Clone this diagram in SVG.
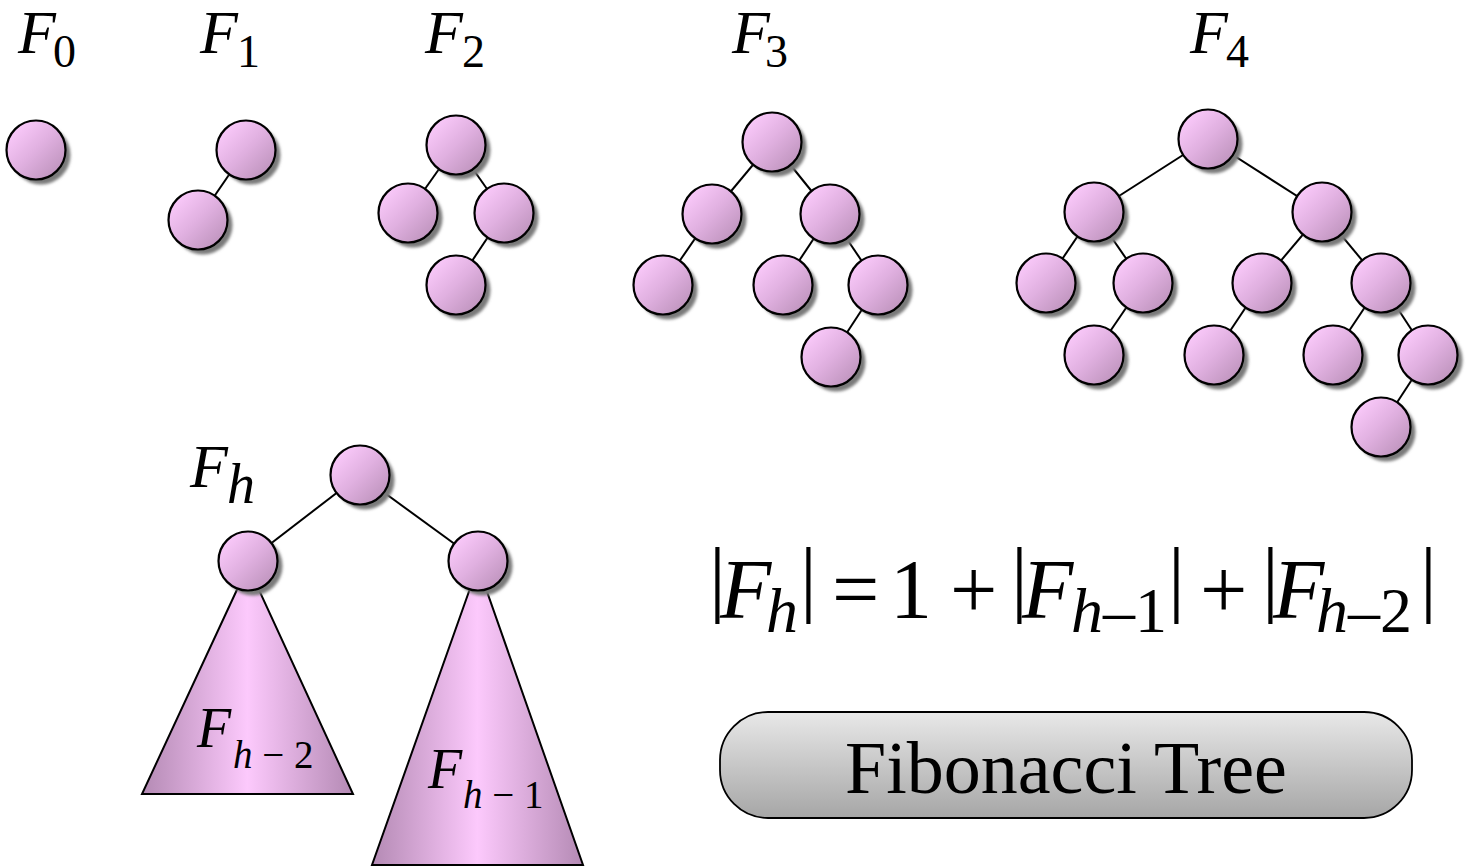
<svg xmlns="http://www.w3.org/2000/svg" width="1469" height="867" viewBox="0 0 1469 867">
<defs>
<linearGradient id="gNode" x1="0" y1="0" x2="1" y2="1">
<stop offset="0.1" stop-color="#fccbfc"/>
<stop offset="0.5" stop-color="#e0b0e0"/>
<stop offset="1" stop-color="#b58cb3"/>
</linearGradient>
<linearGradient id="gTri" x1="0" y1="0" x2="1" y2="0">
<stop offset="0" stop-color="#b48ab4"/>
<stop offset="0.5" stop-color="#fcc9fc"/>
<stop offset="1" stop-color="#b48ab4"/>
</linearGradient>
<linearGradient id="gBtn" x1="0" y1="0" x2="0" y2="1">
<stop offset="0" stop-color="#e8e8e8"/>
<stop offset="1" stop-color="#a6a6a6"/>
</linearGradient>
<filter id="blur" x="-20%" y="-20%" width="140%" height="140%">
<feGaussianBlur stdDeviation="1.4"/>
</filter>
</defs>
<style>
.sh{fill:#7a7a7a;filter:url(#blur)}
.nd{fill:url(#gNode);stroke:#000;stroke-width:2.2}
.ed line{stroke:#000;stroke-width:2}
.tri{fill:url(#gTri);stroke:#000;stroke-width:2}
.t{fill:#000}
.i{font-style:italic}
</style>

<g id="labels" class="t" font-family="Liberation Serif, Times New Roman, serif">
<text x="18" y="53" font-size="62" class="i">F</text><text x="53" y="67" font-size="46">0</text>
<text x="200" y="53" font-size="62" class="i">F</text><text x="237" y="67" font-size="46">1</text>
<text x="425" y="53" font-size="62" class="i">F</text><text x="462" y="67" font-size="46">2</text>
<text x="732" y="53" font-size="62" class="i">F</text><text x="765" y="67" font-size="46">3</text>
<text x="1190" y="53" font-size="62" class="i">F</text><text x="1226" y="67" font-size="46">4</text>
<text x="190" y="487" font-size="62" class="i">F</text><text x="227" y="503" font-size="56" class="i">h</text>
</g>

<g id="connectors" class="ed">
<line x1="246" y1="150" x2="198" y2="220"/>
<line x1="456" y1="145" x2="408" y2="213"/>
<line x1="456" y1="145" x2="504" y2="213"/>
<line x1="504" y1="213" x2="456" y2="285"/>
<line x1="772" y1="142" x2="712" y2="214"/>
<line x1="772" y1="142" x2="830" y2="214"/>
<line x1="712" y1="214" x2="663" y2="285"/>
<line x1="830" y1="214" x2="783" y2="285"/>
<line x1="830" y1="214" x2="878" y2="285"/>
<line x1="878" y1="285" x2="831" y2="357"/>
<line x1="1208" y1="139" x2="1094" y2="212"/>
<line x1="1208" y1="139" x2="1322" y2="212"/>
<line x1="1094" y1="212" x2="1046" y2="283"/>
<line x1="1094" y1="212" x2="1143" y2="283"/>
<line x1="1143" y1="283" x2="1094" y2="355"/>
<line x1="1322" y1="212" x2="1262" y2="283"/>
<line x1="1322" y1="212" x2="1381" y2="283"/>
<line x1="1262" y1="283" x2="1214" y2="355"/>
<line x1="1381" y1="283" x2="1333" y2="355"/>
<line x1="1381" y1="283" x2="1428" y2="355"/>
<line x1="1428" y1="355" x2="1381" y2="427"/>
<line x1="360" y1="475" x2="248" y2="561"/>
<line x1="360" y1="475" x2="478" y2="561"/>
</g>

<g id="subtreeL">
<polygon class="tri" points="248,566 142,794 353,794"/>
<text class="t" font-family="Liberation Serif, Times New Roman, serif" y="747" font-size="56"><tspan x="197" class="i">F</tspan></text>
<text class="t" font-family="Liberation Serif, Times New Roman, serif" x="233" y="768" font-size="39"><tspan class="i">h</tspan> − 2</text>
</g>
<g id="subtreeR">
<polygon class="tri" points="478,566 372,865 583,865"/>
<text class="t" font-family="Liberation Serif, Times New Roman, serif" y="788" font-size="56"><tspan x="428" class="i">F</tspan></text>
<text class="t" font-family="Liberation Serif, Times New Roman, serif" x="463" y="808" font-size="39"><tspan class="i">h</tspan> − 1</text>
</g>

<g id="f0n0"><circle class="sh" cx="41" cy="155" r="29.5"/><circle class="nd" cx="36" cy="150" r="29.5"/></g>

<g id="f1n0"><circle class="sh" cx="251" cy="155" r="29.5"/><circle class="nd" cx="246" cy="150" r="29.5"/></g>
<g id="f1n1"><circle class="sh" cx="203" cy="225" r="29.5"/><circle class="nd" cx="198" cy="220" r="29.5"/></g>

<g id="f2n0"><circle class="sh" cx="461" cy="150" r="29.5"/><circle class="nd" cx="456" cy="145" r="29.5"/></g>
<g id="f2n1"><circle class="sh" cx="413" cy="218" r="29.5"/><circle class="nd" cx="408" cy="213" r="29.5"/></g>
<g id="f2n2"><circle class="sh" cx="509" cy="218" r="29.5"/><circle class="nd" cx="504" cy="213" r="29.5"/></g>
<g id="f2n3"><circle class="sh" cx="461" cy="290" r="29.5"/><circle class="nd" cx="456" cy="285" r="29.5"/></g>

<g id="f3n0"><circle class="sh" cx="777" cy="147" r="29.5"/><circle class="nd" cx="772" cy="142" r="29.5"/></g>
<g id="f3n1"><circle class="sh" cx="717" cy="219" r="29.5"/><circle class="nd" cx="712" cy="214" r="29.5"/></g>
<g id="f3n2"><circle class="sh" cx="835" cy="219" r="29.5"/><circle class="nd" cx="830" cy="214" r="29.5"/></g>
<g id="f3n3"><circle class="sh" cx="668" cy="290" r="29.5"/><circle class="nd" cx="663" cy="285" r="29.5"/></g>
<g id="f3n4"><circle class="sh" cx="788" cy="290" r="29.5"/><circle class="nd" cx="783" cy="285" r="29.5"/></g>
<g id="f3n5"><circle class="sh" cx="883" cy="290" r="29.5"/><circle class="nd" cx="878" cy="285" r="29.5"/></g>
<g id="f3n6"><circle class="sh" cx="836" cy="362" r="29.5"/><circle class="nd" cx="831" cy="357" r="29.5"/></g>

<g id="f4n0"><circle class="sh" cx="1213" cy="144" r="29.5"/><circle class="nd" cx="1208" cy="139" r="29.5"/></g>
<g id="f4n1"><circle class="sh" cx="1099" cy="217" r="29.5"/><circle class="nd" cx="1094" cy="212" r="29.5"/></g>
<g id="f4n2"><circle class="sh" cx="1327" cy="217" r="29.5"/><circle class="nd" cx="1322" cy="212" r="29.5"/></g>
<g id="f4n3"><circle class="sh" cx="1051" cy="288" r="29.5"/><circle class="nd" cx="1046" cy="283" r="29.5"/></g>
<g id="f4n4"><circle class="sh" cx="1148" cy="288" r="29.5"/><circle class="nd" cx="1143" cy="283" r="29.5"/></g>
<g id="f4n5"><circle class="sh" cx="1099" cy="360" r="29.5"/><circle class="nd" cx="1094" cy="355" r="29.5"/></g>
<g id="f4n6"><circle class="sh" cx="1267" cy="288" r="29.5"/><circle class="nd" cx="1262" cy="283" r="29.5"/></g>
<g id="f4n7"><circle class="sh" cx="1386" cy="288" r="29.5"/><circle class="nd" cx="1381" cy="283" r="29.5"/></g>
<g id="f4n8"><circle class="sh" cx="1219" cy="360" r="29.5"/><circle class="nd" cx="1214" cy="355" r="29.5"/></g>
<g id="f4n9"><circle class="sh" cx="1338" cy="360" r="29.5"/><circle class="nd" cx="1333" cy="355" r="29.5"/></g>
<g id="f4n10"><circle class="sh" cx="1433" cy="360" r="29.5"/><circle class="nd" cx="1428" cy="355" r="29.5"/></g>
<g id="f4n11"><circle class="sh" cx="1386" cy="432" r="29.5"/><circle class="nd" cx="1381" cy="427" r="29.5"/></g>

<g id="fhroot"><circle class="sh" cx="365" cy="480" r="29.5"/><circle class="nd" cx="360" cy="475" r="29.5"/></g>
<g id="fhleft"><circle class="sh" cx="253" cy="566" r="29.5"/><circle class="nd" cx="248" cy="561" r="29.5"/></g>
<g id="fhright"><circle class="sh" cx="483" cy="566" r="29.5"/><circle class="nd" cx="478" cy="561" r="29.5"/></g>

<g id="formula" class="t" font-family="Liberation Serif, Times New Roman, serif">
<text font-size="84">
<tspan x="709" y="606">|</tspan><tspan x="720" y="618" class="i">F</tspan><tspan x="766" y="632" font-size="64" class="i">h</tspan><tspan x="800" y="606">|</tspan><tspan x="832" y="618">=</tspan><tspan x="890" y="618">1</tspan><tspan x="950" y="618">+</tspan><tspan x="1011" y="606">|</tspan><tspan x="1022" y="618" class="i">F</tspan><tspan x="1071" y="632" font-size="64"><tspan class="i">h</tspan>–1</tspan><tspan x="1168" y="606">|</tspan><tspan x="1200" y="618">+</tspan><tspan x="1262" y="606">|</tspan><tspan x="1273" y="618" class="i">F</tspan><tspan x="1316" y="632" font-size="64"><tspan class="i">h</tspan>–2</tspan><tspan x="1420" y="606">|</tspan>
</text>
</g>

<g id="button">
<rect x="720" y="712" width="692" height="106" rx="48" ry="48" fill="url(#gBtn)" stroke="#000" stroke-width="1.8"/>
<text class="t" font-family="Liberation Serif, Times New Roman, serif" x="1066" y="793" font-size="74" text-anchor="middle">Fibonacci Tree</text>
</g>
</svg>
